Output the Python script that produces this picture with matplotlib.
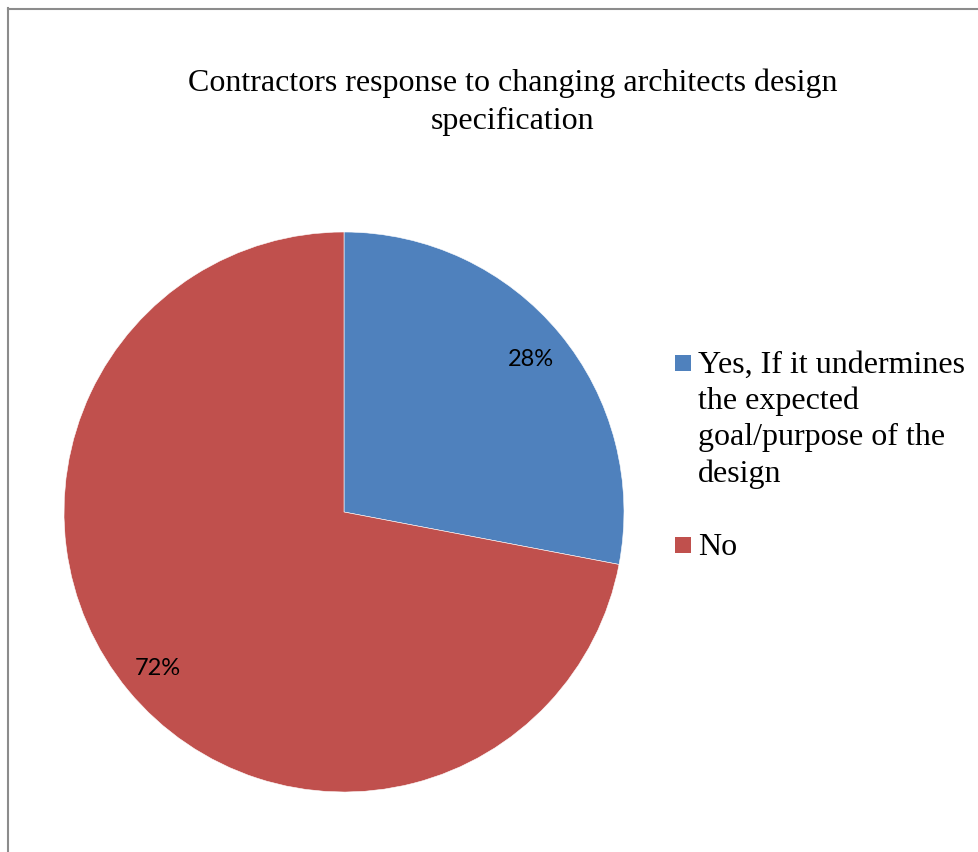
import matplotlib
matplotlib.use('Agg')
import matplotlib.pyplot as plt
from matplotlib.patches import Rectangle
from matplotlib.lines import Line2D

title = "Contractors response to changing architects design\nspecification"
labels = ["Yes, If it undermines\nthe expected\ngoal/purpose of the\ndesign", "No"]
values = [28, 72]
colors = ["#4F81BD", "#C0504D"]

W, H = 979, 852
fig = plt.figure(figsize=(W / 100, H / 100), dpi=100)

# pie centred at (344, 512) px, radius 280 px
cx, cy, r = 344, 512, 280
ax = fig.add_axes([(cx - r) / W, (H - cy - r) / H, 2 * r / W, 2 * r / H])
wedges, texts, autotexts = ax.pie(
    values, colors=colors, startangle=90, counterclock=False,
    autopct=lambda p: f"{p:.0f}%", pctdistance=0.865,
    wedgeprops=dict(edgecolor="white", linewidth=0.4),
    textprops=dict(fontsize=17, family="Lato", color="black"),
)
for t in autotexts:
    t.set_va("center_baseline")
ax.set_xlim(-1, 1)
ax.set_ylim(-1, 1)
ax.set_aspect("equal")
ax.axis("off")

fig.text(513 / W, 1 - 102 / H, title, ha="center", va="center",
         multialignment="center", fontsize=23, family="Liberation Serif",
         linespacing=1.4)

# legend drawn by hand: square centre y (px)
marker_y = [363, 545]
for lab, col, yc in zip(labels, colors, marker_y):
    fig.patches.append(Rectangle((675 / W, 1 - (yc + 8) / H), 16 / W, 16 / H,
                                 transform=fig.transFigure, facecolor=col,
                                 edgecolor="none"))
    fig.text(698 / W, 1 - (yc - 12) / H, lab, ha="left", va="top",
             fontsize=23, family="Liberation Serif", linespacing=1.31)

# chart border (left and top edges visible)
fig.add_artist(Line2D([8.5 / W, 8.5 / W], [0, 1 - 8 / H], color="#8c8c8c", lw=1.5))
fig.add_artist(Line2D([8 / W, 1], [1 - 8.5 / H, 1 - 8.5 / H], color="#8c8c8c", lw=1.5))

fig.savefig("out.png", dpi=100, facecolor="white")
